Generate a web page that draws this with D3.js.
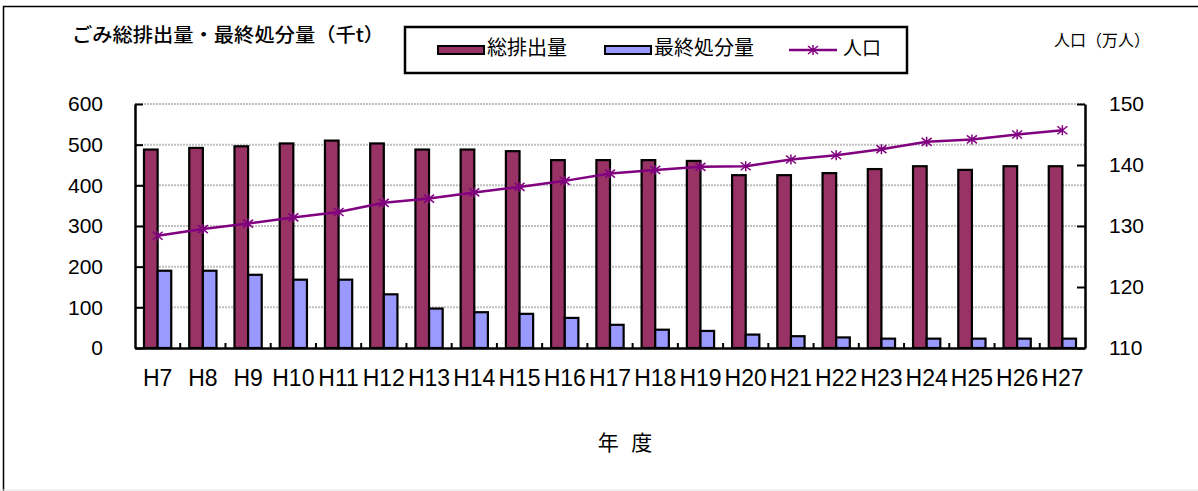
<!DOCTYPE html>
<html>
<head>
<meta charset="utf-8">
<script src="https://cdn.jsdelivr.net/npm/d3@7"></script>
<style>
  body { margin: 0; background: #fff; }
  svg { display: block; }
</style>
</head>
<body>
<div id="chart"></div>
<script>
const years = ["H7", "H8", "H9", "H10", "H11", "H12", "H13", "H14", "H15", "H16", "H17",
  "H18", "H19", "H20", "H21", "H22", "H23", "H24", "H25", "H26", "H27"]
const totalWaste = [488, 492, 496, 503, 510, 503, 488, 488, 484, 462, 462,
  462, 460, 425, 425, 430, 440, 447, 438, 447, 447]
const finalDisposal = [190, 190, 180, 168, 168, 132, 97, 88, 84, 74, 57,
  45, 42, 33, 29, 26, 23, 23, 23, 23, 23]
const population = [128.4, 129.5, 130.4, 131.4, 132.3, 133.8, 134.5, 135.5, 136.4, 137.4, 138.6,
  139.2, 139.7, 139.8, 140.9, 141.6, 142.6, 143.8, 144.2, 145.0, 145.7]
const leftTicks = [0, 100, 200, 300, 400, 500, 600]
const rightTicks = [110, 120, 130, 140, 150]
const seriesNames = ["総排出量", "最終処分量"]
const seriesColors = ["#993366", "#9999ff"]
const lineColor = "#800080"

function createChart() {
  const W = 1198, H = 491
  const plot = { left: 135, right: 1085, top: 104, bottom: 348 }

  const svg = d3.select("#chart").append("svg")
    .attr("width", W)
    .attr("height", H)

  // outer frame (right/bottom edges fall outside the picture)
  svg.append("rect")
    .attr("x", 3.5).attr("y", 6.5)
    .attr("width", 1210).attr("height", 500)
    .attr("fill", "none").attr("stroke", "#000").attr("stroke-width", 1.5)
  svg.append("line")
    .attr("x1", 0).attr("x2", W).attr("y1", 490).attr("y2", 490)
    .attr("stroke", "#e4e4e4").attr("stroke-width", 1)

  const x = d3.scaleBand().domain(years).range([plot.left, plot.right]).padding(0)
  const xSub = d3.scaleBand().domain(seriesNames).range([0, x.bandwidth()]).paddingInner(0).paddingOuter(0.66)
  const yLeft = d3.scaleLinear().domain([0, 600]).range([plot.bottom, plot.top])
  const yRight = d3.scaleLinear().domain([110, 150]).range([plot.bottom, plot.top])

  // gridlines
  svg.append("g")
    .selectAll("line")
    .data(leftTicks.filter(d => d > 0))
    .enter()
    .append("line")
    .attr("x1", plot.left).attr("x2", plot.right)
    .attr("y1", d => yLeft(d)).attr("y2", d => yLeft(d))
    .attr("stroke", "#c0c0c0")
    .attr("stroke-width", 2)
    .attr("stroke-dasharray", "2,1")

  // bars
  const series = [totalWaste, finalDisposal]
  series.forEach((values, si) => {
    svg.append("g")
      .selectAll("rect")
      .data(values)
      .enter()
      .append("rect")
      .attr("x", (d, i) => x(years[i]) + xSub(seriesNames[si]))
      .attr("width", xSub.bandwidth())
      .attr("y", d => yLeft(d))
      .attr("height", d => yLeft(0) - yLeft(d))
      .attr("fill", seriesColors[si])
      .attr("stroke", "#000")
      .attr("stroke-width", 2.2)
  })

  // population line
  const line = d3.line()
    .x((d, i) => x(years[i]) + x.bandwidth() / 2)
    .y(d => yRight(d))
  svg.append("path")
    .datum(population)
    .attr("d", line)
    .attr("fill", "none")
    .attr("stroke", lineColor)
    .attr("stroke-width", 2.5)

  const star = "M-5,-4L5,4M-5,4L5,-4M0,-5L0,5"
  svg.append("g")
    .selectAll("path")
    .data(population)
    .enter()
    .append("path")
    .attr("transform", (d, i) => `translate(${x(years[i]) + x.bandwidth() / 2},${yRight(d)})`)
    .attr("d", star)
    .attr("fill", "none")
    .attr("stroke", lineColor)
    .attr("stroke-width", 1.5)

  // left axis
  const leftAxis = svg.append("g")
    .attr("transform", `translate(${plot.left},0)`)
    .call(d3.axisLeft(yLeft).tickValues(leftTicks).tickSizeInner(-8).tickSizeOuter(0).tickPadding(32))
  leftAxis.select(".domain").attr("stroke-width", 2.5)
  leftAxis.selectAll(".tick line").attr("stroke-width", 2)
  leftAxis.selectAll("text")
    .attr("font-family", "Liberation Sans, Arial, sans-serif")
    .attr("font-size", 21)
    .attr("fill", "#000")

  // right axis
  const rightAxis = svg.append("g")
    .attr("transform", `translate(${plot.right},0)`)
    .call(d3.axisRight(yRight).tickValues(rightTicks).tickSizeInner(-8).tickSizeOuter(0).tickPadding(24))
  rightAxis.select(".domain").attr("stroke-width", 2.5)
  rightAxis.selectAll(".tick line").attr("stroke-width", 2)
  rightAxis.selectAll("text")
    .attr("font-family", "Liberation Sans, Arial, sans-serif")
    .attr("font-size", 21)
    .attr("fill", "#000")

  // bottom axis: labels centred, ticks on band boundaries
  const bottomAxis = svg.append("g")
    .attr("transform", `translate(0,${plot.bottom})`)
    .call(d3.axisBottom(x).tickSize(0).tickPadding(22))
  bottomAxis.select(".domain").attr("stroke-width", 2.5)
  bottomAxis.selectAll("text")
    .attr("font-family", "Liberation Sans, Arial, sans-serif")
    .attr("font-size", 23)
    .attr("fill", "#000")
  svg.append("g")
    .selectAll("line")
    .data(years.slice(1))
    .enter()
    .append("line")
    .attr("x1", d => x(d)).attr("x2", d => x(d))
    .attr("y1", plot.bottom).attr("y2", plot.bottom - 5)
    .attr("stroke", "#000")
    .attr("stroke-width", 2)

  const jp = "'Noto Sans CJK JP', sans-serif"

  // axis titles
  svg.append("text")
    .attr("x", 72).attr("y", 37)
    .attr("dominant-baseline", "middle")
    .attr("font-family", jp)
    .attr("font-size", 19)
    .attr("font-weight", 500)
    .attr("textLength", 312)
    .attr("lengthAdjust", "spacingAndGlyphs")
    .text("ごみ総排出量・最終処分量（千t）")

  svg.append("text")
    .attr("x", 1054).attr("y", 42)
    .attr("dominant-baseline", "middle")
    .attr("font-family", jp)
    .attr("font-size", 16)
    .text("人口（万人）")

  svg.append("text")
    .attr("x", 627).attr("y", 444)
    .attr("text-anchor", "middle")
    .attr("dominant-baseline", "middle")
    .attr("font-family", jp)
    .attr("font-size", 21)
    .attr("letter-spacing", 4)
    .text("年 度")

  // legend
  const legend = svg.append("g")
  legend.append("rect")
    .attr("x", 405).attr("y", 27)
    .attr("width", 502).attr("height", 46)
    .attr("fill", "#fff").attr("stroke", "#000").attr("stroke-width", 2.5)

  const legendY = 50
  const swatchX = [438, 605]
  seriesNames.forEach((name, i) => {
    legend.append("rect")
      .attr("x", swatchX[i]).attr("y", legendY - 4)
      .attr("width", 46).attr("height", 8)
      .attr("fill", seriesColors[i]).attr("stroke", "#000").attr("stroke-width", 2)
    legend.append("text")
      .attr("x", swatchX[i] + 49).attr("y", legendY)
      .attr("dominant-baseline", "middle")
      .attr("font-family", jp)
      .attr("font-size", 20)
      .text(name)
  })
  legend.append("line")
    .attr("x1", 789).attr("x2", 837).attr("y1", legendY).attr("y2", legendY)
    .attr("stroke", lineColor).attr("stroke-width", 2.5)
  legend.append("path")
    .attr("transform", `translate(813,${legendY})`)
    .attr("d", star)
    .attr("fill", "none").attr("stroke", lineColor).attr("stroke-width", 1.5)
  legend.append("text")
    .attr("x", 843).attr("y", legendY)
    .attr("dominant-baseline", "middle")
    .attr("font-family", jp)
    .attr("font-size", 19)
    .text("人口")
}

createChart()
</script>
</body>
</html>
